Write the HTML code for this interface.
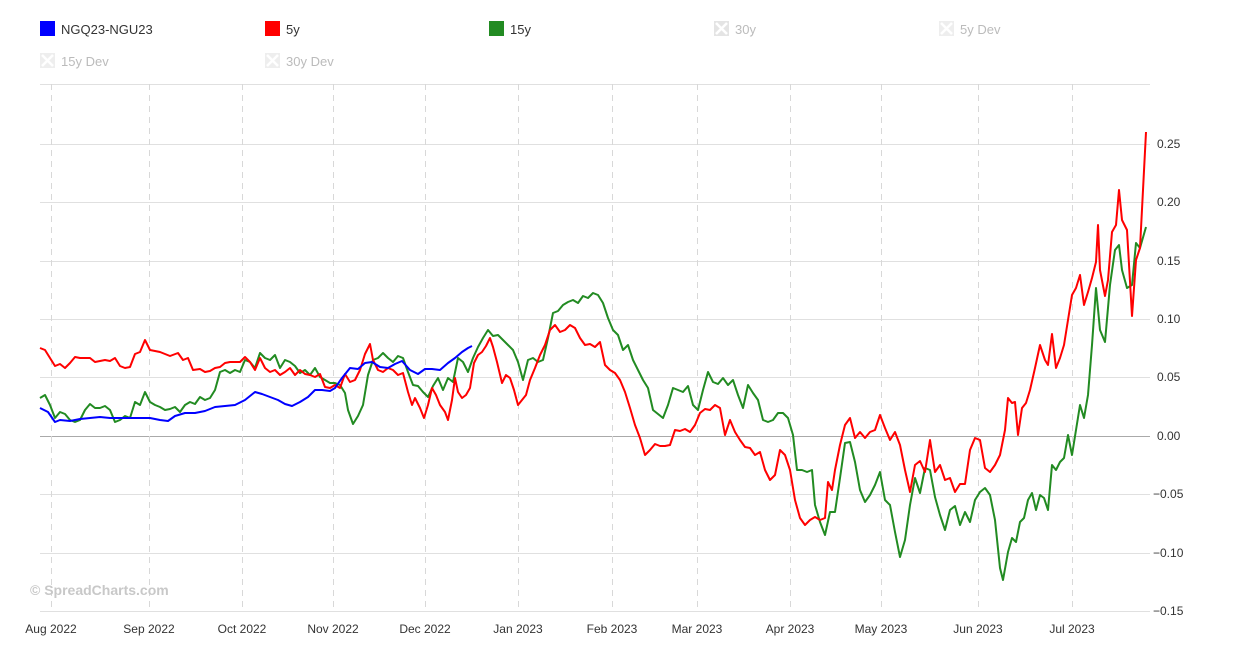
<!DOCTYPE html>
<html><head><meta charset="utf-8"><style>
html,body{margin:0;padding:0;background:#fff;}
svg{display:block;font-family:"Liberation Sans",sans-serif;}
</style></head><body>
<svg width="1234" height="649" xmlns="http://www.w3.org/2000/svg">
<rect width="1234" height="649" fill="#fff"/>
<!-- legend -->
<g font-size="13" fill="#333">
<rect x="40" y="21" width="15" height="15" fill="#0000ff"/><text x="61" y="34">NGQ23-NGU23</text>
<rect x="265" y="21" width="15" height="15" fill="#ff0000"/><text x="286" y="34">5y</text>
<rect x="489" y="21" width="15" height="15" fill="#228b22"/><text x="510" y="34">15y</text>
</g>
<g font-size="13" fill="#bbb">
<rect x="714" y="21" width="15" height="15" fill="#e4e4e4"/><path d="M716 23l11 11M727 23l-11 11" stroke="#fff" stroke-width="2.5"/><text x="735" y="34">30y</text>
<rect x="939" y="21" width="15" height="15" fill="#eee"/><path d="M941 23l11 11M952 23l-11 11" stroke="#fff" stroke-width="2.5"/><text x="960" y="34">5y Dev</text>
<rect x="40" y="53" width="15" height="15" fill="#eee"/><path d="M42 55l11 11M53 55l-11 11" stroke="#fff" stroke-width="2.5"/><text x="61" y="66">15y Dev</text>
<rect x="265" y="53" width="15" height="15" fill="#eee"/><path d="M267 55l11 11M278 55l-11 11" stroke="#fff" stroke-width="2.5"/><text x="286" y="66">30y Dev</text>
</g>
<!-- grid -->
<g stroke="#e0e0e0" stroke-width="1">
<line x1="40" x2="1150" y1="84.5" y2="84.5"/>
<line x1="40" x2="1150" y1="144.5" y2="144.5"/>
<line x1="40" x2="1150" y1="202.5" y2="202.5"/>
<line x1="40" x2="1150" y1="261.5" y2="261.5"/>
<line x1="40" x2="1150" y1="319.5" y2="319.5"/>
<line x1="40" x2="1150" y1="377.5" y2="377.5"/>
<line x1="40" x2="1150" y1="494.5" y2="494.5"/>
<line x1="40" x2="1150" y1="553.5" y2="553.5"/>
<line x1="40" x2="1150" y1="611.5" y2="611.5"/>
</g>
<line x1="40" x2="1150" y1="436.5" y2="436.5" stroke="#aaa"/>
<g stroke="#d8d8d8" stroke-dasharray="6,5">
<line x1="51.5" x2="51.5" y1="84" y2="612"/><line x1="149.5" x2="149.5" y1="84" y2="612"/>
<line x1="242.5" x2="242.5" y1="84" y2="612"/><line x1="333.5" x2="333.5" y1="84" y2="612"/>
<line x1="425.5" x2="425.5" y1="84" y2="612"/><line x1="518.5" x2="518.5" y1="84" y2="612"/>
<line x1="612.5" x2="612.5" y1="84" y2="612"/><line x1="697.5" x2="697.5" y1="84" y2="612"/>
<line x1="790.5" x2="790.5" y1="84" y2="612"/><line x1="881.5" x2="881.5" y1="84" y2="612"/>
<line x1="978.5" x2="978.5" y1="84" y2="612"/><line x1="1072.5" x2="1072.5" y1="84" y2="612"/>
</g>
<!-- y labels -->
<g font-size="12" fill="#333">
<text x="1157" y="148">0.25</text><text x="1157" y="206">0.20</text><text x="1157" y="265">0.15</text>
<text x="1157" y="323">0.10</text><text x="1157" y="381">0.05</text><text x="1157" y="440">0.00</text>
<text x="1153" y="498">−0.05</text><text x="1153" y="557">−0.10</text><text x="1153" y="615">−0.15</text>
</g>
<g font-size="12" fill="#333" text-anchor="middle">
<text x="51" y="633">Aug 2022</text><text x="149" y="633">Sep 2022</text><text x="242" y="633">Oct 2022</text>
<text x="333" y="633">Nov 2022</text><text x="425" y="633">Dec 2022</text><text x="518" y="633">Jan 2023</text>
<text x="612" y="633">Feb 2023</text><text x="697" y="633">Mar 2023</text><text x="790" y="633">Apr 2023</text>
<text x="881" y="633">May 2023</text><text x="978" y="633">Jun 2023</text><text x="1072" y="633">Jul 2023</text>
</g>
<text x="30" y="595" font-size="14" font-weight="bold" fill="#c8c8c8">© SpreadCharts.com</text>
<!-- series -->
<g fill="none" stroke-width="2" stroke-linejoin="round">
<polyline stroke="#228b22" points="40,398 45,395 50,405 55,418 60,412 65,414 70,420 75,422 80,420 85,410 90,404 95,408 100,408 105,406 110,410 115,422 120,420 125,416 130,418 135,402 140,405 145,392 150,402 155,405 160,407 165,410 170,409 175,407 180,412 185,405 190,402 195,404 200,397 205,400 210,398 215,390 220,372 225,370 230,373 235,370 240,372 245,360 250,362 255,368 260,353 265,358 270,360 275,355 280,368 285,360 290,362 295,366 300,373 305,370 310,375 315,368 320,377 325,380 330,383 335,383 340,385 345,393 348,410 353,424 358,416 363,405 368,375 373,360 378,358 383,353 388,358 393,362 398,356 403,358 408,372 413,385 418,386 423,392 428,397 433,386 438,378 443,390 448,378 453,382 458,358 463,362 468,372 473,358 478,347 483,338 488,330 493,336 498,335 503,340 508,345 513,350 518,362 523,380 528,360 533,358 538,362 543,360 548,338 553,313 558,311 563,305 568,302 573,300 578,303 583,296 588,298 593,293 598,295 603,303 608,318 613,330 618,335 623,350 628,345 633,360 638,370 643,380 648,388 653,410 658,414 663,418 668,405 673,388 678,390 683,392 688,386 693,405 698,410 703,390 708,372 713,382 718,384 723,378 728,385 733,380 738,395 743,408 748,385 753,393 758,400 763,420 768,422 773,420 778,413 783,413 788,418 793,435 797,470 802,470 807,472 812,470 815,505 820,522 825,535 830,512 835,512 840,478 845,443 850,442 855,462 860,490 865,502 870,495 875,485 880,472 885,500 890,505 895,532 900,557 905,540 910,505 915,478 920,493 925,468 930,470 935,497 940,515 945,530 950,510 955,506 960,525 965,512 970,522 975,500 980,492 985,488 990,495 995,520 1000,568 1003,580 1008,552 1012,538 1016,542 1020,522 1024,518 1028,500 1032,493 1036,510 1040,495 1044,498 1048,510 1052,465 1056,470 1060,462 1064,458 1068,435 1072,455 1076,430 1080,405 1084,418 1088,395 1092,345 1096,288 1100,330 1105,342 1110,285 1115,250 1119,245 1122,270 1127,288 1132,285 1136,243 1140,248 1146,227"/>
<polyline stroke="#ff0000" points="40,348 45,350 50,358 55,366 60,364 65,368 70,363 75,357 80,358 90,358 95,362 100,361 105,360 110,361 115,358 120,366 125,368 130,367 135,354 140,352 145,340 150,350 160,352 170,356 178,353 183,360 188,358 193,370 200,369 205,372 210,371 215,368 220,367 225,363 230,362 240,362 245,357 250,362 255,370 260,358 265,368 270,372 275,370 280,375 285,372 290,368 295,375 300,370 305,374 310,375 315,377 320,374 325,387 330,388 335,385 340,388 345,374 350,382 355,380 360,370 365,354 370,344 373,360 378,370 383,372 388,368 393,370 398,375 403,373 408,392 412,405 415,398 420,408 424,418 428,405 432,388 436,395 440,405 445,412 448,420 452,400 455,378 458,392 462,398 466,395 470,388 474,363 478,355 482,352 486,346 490,338 493,347 497,362 502,383 506,375 510,378 514,390 518,405 522,400 526,395 530,380 535,368 540,355 545,345 550,330 555,325 560,332 565,330 570,325 575,328 580,338 585,345 590,344 595,347 600,342 605,365 610,370 615,373 620,380 625,392 630,408 635,425 640,438 645,455 650,450 655,444 660,446 665,446 670,445 675,430 680,431 685,429 690,432 695,425 700,413 705,409 710,410 715,405 720,408 725,435 730,420 735,432 740,440 745,447 750,448 755,455 760,452 765,470 770,480 775,475 780,450 785,455 790,470 795,500 800,518 805,525 810,520 815,517 820,520 825,518 828,482 832,490 835,470 840,445 845,425 850,418 855,438 860,432 865,438 870,432 875,430 880,415 885,428 890,440 895,432 900,445 905,470 910,492 915,465 920,461 925,472 930,440 935,472 940,465 945,480 950,478 955,492 960,484 965,484 970,450 975,438 980,440 985,468 990,472 995,465 1000,455 1005,430 1008,398 1012,403 1015,402 1018,435 1022,408 1026,403 1030,390 1035,368 1040,345 1045,360 1048,365 1052,334 1056,368 1060,358 1064,345 1068,320 1072,295 1076,288 1080,275 1084,305 1088,292 1092,278 1096,262 1098,225 1100,270 1105,296 1108,280 1112,232 1116,225 1119,190 1122,220 1127,230 1132,316 1136,260 1140,248 1146,132"/>
<polyline stroke="#0000ff" points="40,408 48,412 55,422 60,420 70,421 80,419 90,418 100,417 110,418 120,418 130,418 140,418 150,418 160,420 168,421 175,416 185,413 195,413 205,411 215,407 225,406 235,405 245,400 255,392 262,394 270,397 278,400 285,404 292,406 300,402 308,397 315,390 322,390 330,391 335,388 342,378 350,368 358,369 365,363 372,362 380,367 388,368 395,364 402,361 410,370 418,374 425,369 432,369 440,370 448,363 455,358 462,352 468,348 472,346"/>
</g>
</svg>
</body></html>
